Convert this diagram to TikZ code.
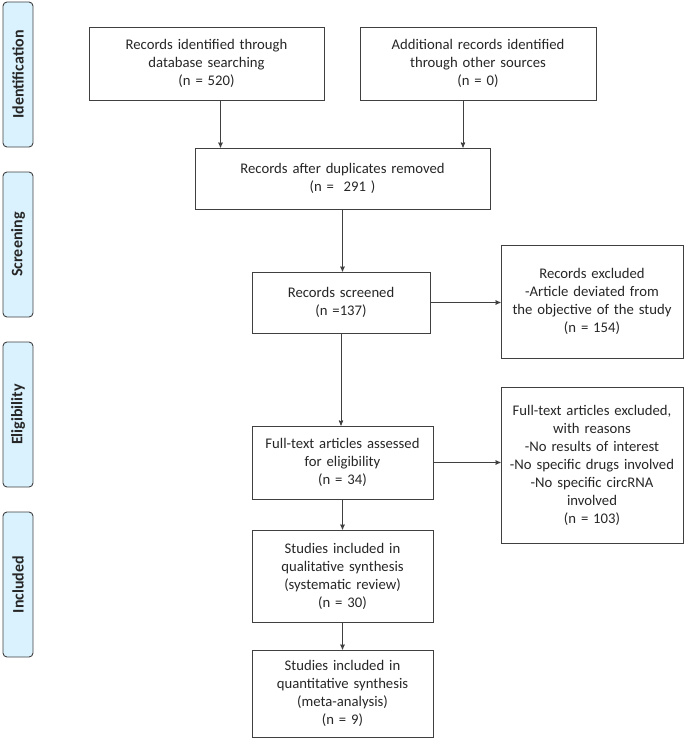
\documentclass[tikz,border=0pt]{standalone}
\usepackage{fontspec}
\setmainfont{Carlito}
\usetikzlibrary{arrows,positioning}
\tikzset{
	>=stealth',
}
\definecolor{phasefill}{RGB}{218,242,254}
\definecolor{linegray}{RGB}{64,64,64}

\begin{document}
\begin{tikzpicture}[x=1pt,y=1pt,
box/.style = {rectangle, draw=linegray, line width=0.9pt, align=center, inner sep=0, text=black!85, font=\fontsize{14.7}{18}\selectfont},
phase/.style = {rectangle, rounded corners=4pt, draw=linegray, line width=0.9pt, fill=phasefill, minimum width=30, minimum height=145, inner sep=0},
phasetext/.style = {rotate=90, font=\fontsize{16}{18}\selectfont\bfseries, text=black!85},
flow/.style = {->, draw=linegray, line width=0.9pt}]
\useasboundingbox (0,0) rectangle (685,-749);
% phases on the left
\node[phase] (identphase) at (18,-74.5) {};
\node[phasetext] at (identphase) {Identification};
\node[phase] (screenphase) at (18,-244.5) {};
\node[phasetext] at (screenphase) {Screening};
\node[phase] (eligphase) at (18,-414.5) {};
\node[phasetext] at (eligphase) {Eligibility};
\node[phase] (inclphase) at (18,-584.5) {};
\node[phasetext] at (inclphase) {Included};
% boxes
\node[box,minimum width=235,minimum height=73,text width=225] (dbsearch) at (206.5,-63.5)
	{Records identified through\\database searching\\(n = 520)};
\node[box,minimum width=236,minimum height=73,text width=226] (othersrc) at (478,-63.5)
	{Additional records identified\\through other sources\\(n = 0)};
\node[box,minimum width=295,minimum height=61,text width=285] (dupremoved) at (342.5,-178.5)
	{Records after duplicates removed\\(n =\ \ 291 )};
\node[box,minimum width=178,minimum height=61,text width=170] (screened) at (341,-302.5)
	{Records screened\\(n =137)};
\node[box,minimum width=182,minimum height=113,text width=176] (screenexcl) at (592,-301.5)
	{Records excluded\\-Article deviated from\\the objective of the study\\(n = 154)\\[12pt]};
\node[box,minimum width=181,minimum height=73,text width=173] (fulltext) at (342.5,-462.5)
	{Full-text articles assessed\\for eligibility\\(n = 34)};
\node[box,minimum width=182,minimum height=156,text width=176] (fulltextexcl) at (592,-465)
	{Full-text articles excluded,\\with reasons\\-No results of interest\\-No specific drugs involved\\-No specific circRNA\\involved\\(n = 103)};
\node[box,minimum width=181,minimum height=92,text width=173] (qualsynth) at (342.5,-576)
	{Studies included in\\qualitative synthesis\\(systematic review)\\(n = 30)};
\node[box,minimum width=181,minimum height=87,text width=173] (quantsynth) at (342.5,-693.5)
	{Studies included in\\quantitative synthesis\\(meta-analysis)\\(n = 9)};
% connectors
\draw[flow] ([xshift=14]dbsearch.south) -- ([xshift=14]dbsearch.south |- dupremoved.north);
\draw[flow] ([xshift=-15]othersrc.south) -- ([xshift=-15]othersrc.south |- dupremoved.north);
\draw[flow] (dupremoved.south) -- (dupremoved.south |- screened.north);
\draw[flow] (screened.east) -- (screened.east -| screenexcl.west);
\draw[flow] (screened.south) -- (screened.south |- fulltext.north);
\draw[flow] (fulltext.east) -- (fulltext.east -| fulltextexcl.west);
\draw[flow] (fulltext) -- (qualsynth);
\draw[flow] (qualsynth) -- (quantsynth);
\end{tikzpicture}
\end{document}
